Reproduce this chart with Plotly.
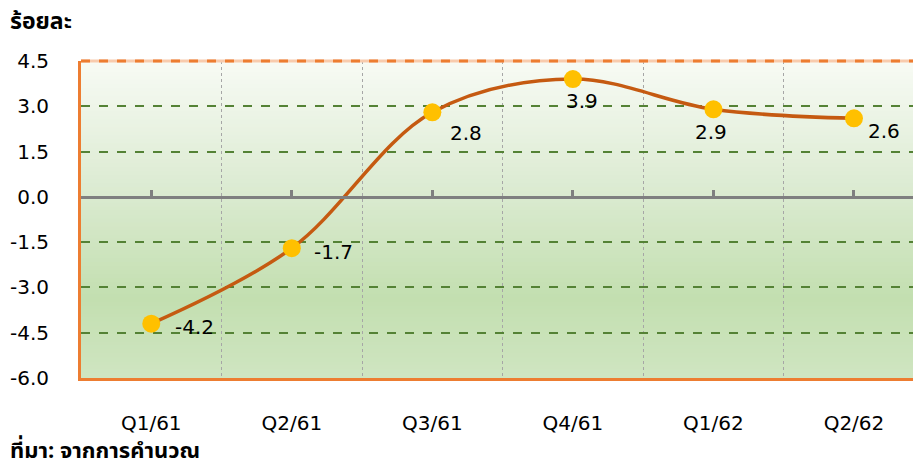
import plotly.graph_objects as go

categories = ["Q1/61", "Q2/61", "Q3/61", "Q4/61", "Q1/62", "Q2/62"]
values = [-4.2, -1.7, 2.8, 3.9, 2.9, 2.6]
labels = ["-4.2", "-1.7", "2.8", "3.9", "2.9", "2.6"]
ytick_vals = [-6.0, -4.5, -3.0, -1.5, 0.0, 1.5, 3.0, 4.5]
ytick_text = ["-6.0", "-4.5", "-3.0", "-1.5", "0.0", "1.5", "3.0", "4.5"]
y_title = "ร้อยละ"
source_text = "ที่มา: จากการคำนวณ"

# label offsets (pixels) relative to each point
label_dx = [43, 42, 34, 9, -2, 30]
label_dy = [-3, -4, -21, -22, -23, -13]

FONT = "DejaVu Sans, Noto Sans, sans-serif"
THAI_FONT = "Noto Sans Thai, Tahoma, Noto Sans, sans-serif"
x_idx = list(range(len(categories)))

fig = go.Figure()
fig.add_trace(go.Scatter(
    x=x_idx, y=values, mode="lines+markers",
    line=dict(color="#C55A11", width=3.5, shape="spline", smoothing=1.0),
    marker=dict(color="#FFC000", size=18, line=dict(width=0)),
    cliponaxis=False, showlegend=False, hoverinfo="skip",
))
# invisible trace to host the zero-line tick axis
fig.add_trace(go.Scatter(x=x_idx, y=values, xaxis="x2", mode="markers",
                         marker=dict(opacity=0), showlegend=False, hoverinfo="skip"))

# gradient background bands
def hex2rgb(h):
    h = h.lstrip("#")
    return [int(h[i:i + 2], 16) for i in (0, 2, 4)]

stops = [(0.0, "#f8fbf5"), (0.4, "#dcebd2"), (0.75, "#c3dfb0"), (1.0, "#cfe5c1")]
n = 80
shapes = []
for i in range(n):
    t = (i + 0.5) / n
    for j in range(len(stops) - 1):
        if stops[j][0] <= t <= stops[j + 1][0]:
            a, b = stops[j], stops[j + 1]
            f = (t - a[0]) / (b[0] - a[0])
            ca, cb = hex2rgb(a[1]), hex2rgb(b[1])
            c = [round(ca[k] + (cb[k] - ca[k]) * f) for k in range(3)]
            break
    shapes.append(dict(type="rect", xref="x domain", yref="y domain",
                       x0=0, x1=1, y0=1 - (i + 1) / n, y1=min(1, 1 - i / n + 0.003),
                       fillcolor="rgb(%d,%d,%d)" % tuple(c), line=dict(width=0), layer="below"))
# top border
shapes.append(dict(type="line", xref="x domain", yref="y domain", x0=0, x1=1, y0=1, y1=1,
                   line=dict(color="#f8cbad", width=3), layer="above"))
shapes.append(dict(type="line", xref="x domain", yref="y domain", x0=0, x1=1, y0=1, y1=1,
                   line=dict(color="#ed7d31", width=3, dash="dash"), layer="above"))

y_min, y_max = -6.0, 4.5
x_range = [-0.5, 5.42]

annotations = [
    dict(text="<b>%s</b>" % y_title, xref="paper", yref="paper", x=-0.0877, y=1.123,
         xanchor="left", yanchor="middle", showarrow=False,
         font=dict(family=THAI_FONT, size=23, color="#000000")),
    dict(text="<b>%s</b>" % source_text, xref="paper", yref="paper", x=-0.0877, y=-0.232,
         xanchor="left", yanchor="middle", showarrow=False,
         font=dict(family=THAI_FONT, size=22, color="#000000")),
]
for xi, v, t, dx, dy in zip(x_idx, values, labels, label_dx, label_dy):
    annotations.append(dict(x=xi, y=v, xref="x", yref="y", text=t, showarrow=False,
                            xshift=dx, yshift=dy, xanchor="center", yanchor="middle",
                            font=dict(family=FONT, size=20, color="#000000")))

fig.update_layout(
    template="none",
    width=913, height=468,
    margin=dict(l=81, r=0, t=61, b=90, autoexpand=False),
    paper_bgcolor="white", plot_bgcolor="rgba(0,0,0,0)",
    font=dict(family=FONT, size=20, color="#000000"),
    shapes=shapes,
    showlegend=False,
    xaxis=dict(
        range=x_range, tickmode="array", tickvals=x_idx, ticktext=categories,
        showgrid=False, zeroline=False, automargin=False,
        showline=True, linecolor="#ed7d31", linewidth=3,
        ticks="outside", ticklen=25, tickcolor="rgba(0,0,0,0)",
        tickfont=dict(family=FONT, size=20, color="#000000"),
        minor=dict(tick0=0.5, dtick=1, showgrid=True, gridcolor="#a6a6a6",
                   griddash="dot", gridwidth=1, ticks=""),
        fixedrange=True,
    ),
    xaxis2=dict(
        overlaying="x", anchor="free", position=(0 - y_min) / (y_max - y_min),
        side="top", range=x_range, tickmode="array", tickvals=x_idx,
        showticklabels=False, showgrid=False, zeroline=False, automargin=False,
        showline=True, linecolor="#7f7f7f", linewidth=3,
        ticks="outside", ticklen=6, tickwidth=3, tickcolor="#7f7f7f",
        fixedrange=True,
    ),
    yaxis=dict(
        range=[y_min, y_max], tickmode="array", tickvals=ytick_vals, ticktext=ytick_text,
        showgrid=True, gridcolor="#548235", griddash="dash", gridwidth=1.5,
        zeroline=False, automargin=False,
        showline=True, linecolor="#ed7d31", linewidth=3,
        ticks="outside", ticklen=25, tickcolor="rgba(0,0,0,0)",
        tickfont=dict(family=FONT, size=20, color="#000000"),
        fixedrange=True,
    ),
    annotations=annotations,
)

fig.write_html("out.html", config={"displayModeBar": False},
               post_script="document.body.style.margin='0';document.body.style.overflow='hidden';")
